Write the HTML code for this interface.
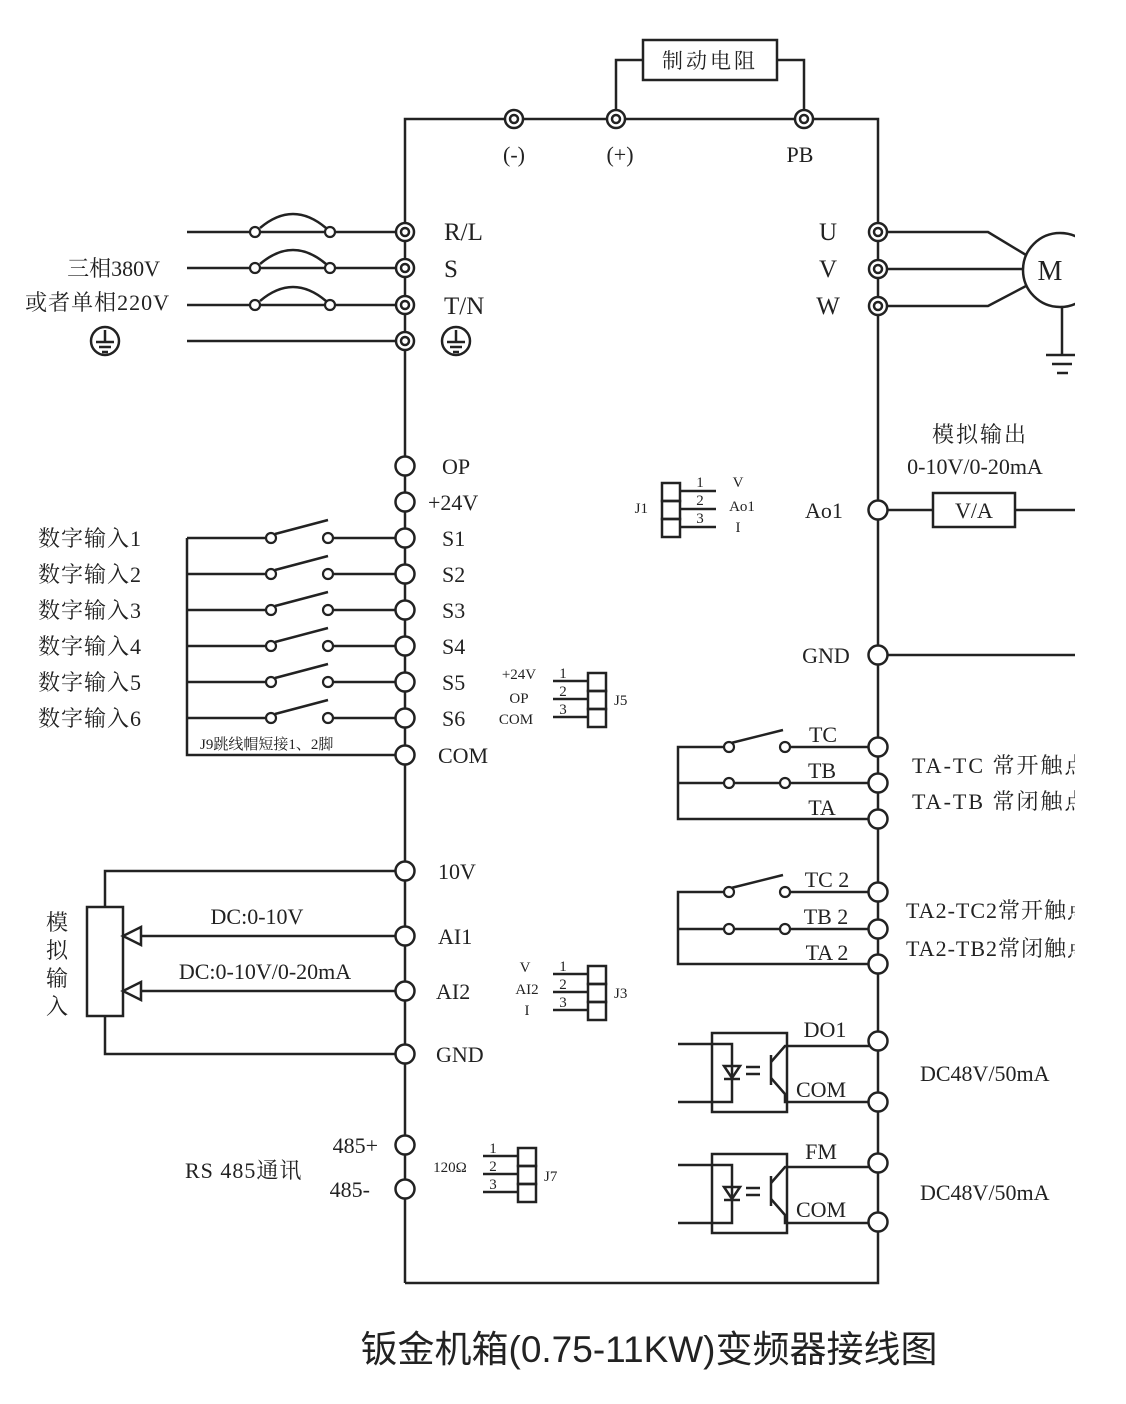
<!DOCTYPE html>
<html><head><meta charset="utf-8"><style>
html,body{margin:0;padding:0;background:#fff;}
svg{display:block;}
text{font-family:"Liberation Serif","Noto Serif CJK SC",serif;fill:#222;}
.t{font-family:"Liberation Sans","Noto Sans CJK SC",sans-serif;}
</style></head><body>
<svg width="1126" height="1404" viewBox="0 0 1126 1404" xmlns="http://www.w3.org/2000/svg">
<defs><clipPath id="cl"><rect x="0" y="0" width="1075" height="1404"/></clipPath></defs>
<g stroke="#222" stroke-width="2.5" fill="none" clip-path="url(#cl)">
<polyline points="405,1283 405,119 878,119 878,1283 405,1283"/>
<rect x="643" y="40" width="134" height="40"/>
<polyline points="616,119 616,60 643,60"/>
<polyline points="777,60 804,60 804,119"/>
<line x1="187" y1="232" x2="396" y2="232"/>
<line x1="187" y1="268" x2="396" y2="268"/>
<line x1="187" y1="305" x2="396" y2="305"/>
<line x1="187" y1="341" x2="396" y2="341"/>
<path d="M260,228 Q293,200 326,228"/>
<path d="M260,264 Q293,236 326,264"/>
<path d="M260,301 Q293,273 326,301"/>
<polyline points="887,232 988,232 1026,255"/>
<line x1="887" y1="269" x2="1023" y2="269"/>
<polyline points="887,306 988,306 1026,286"/>
<circle cx="1060" cy="270" r="37"/>
<line x1="1062" y1="307" x2="1062" y2="355"/>
<line x1="1046" y1="355" x2="1075" y2="355"/>
<line x1="1052" y1="364" x2="1072" y2="364"/>
<line x1="1057" y1="373" x2="1068" y2="373"/>
<polyline points="396,755 187,755 187,538"/>
<g id="sw">
<line x1="187" y1="538" x2="267" y2="538"/>
<line x1="275" y1="534" x2="328" y2="520"/>
<line x1="333" y1="538" x2="396" y2="538"/>
</g>
<use href="#sw" y="36"/><use href="#sw" y="72"/><use href="#sw" y="108"/><use href="#sw" y="144"/><use href="#sw" y="180"/>
<rect x="87" y="907" width="36" height="109"/>
<polyline points="105,907 105,871 396,871"/>
<polyline points="105,1016 105,1054 396,1054"/>
<line x1="141" y1="936" x2="396" y2="936"/>
<line x1="141" y1="991" x2="396" y2="991"/>
<polygon points="123,936 141,927 141,945"/>
<polygon points="123,991 141,982 141,1000"/>
<line x1="887" y1="510" x2="933" y2="510"/>
<rect x="933" y="493" width="82" height="34"/>
<line x1="1015" y1="510" x2="1075" y2="510"/>
<line x1="887" y1="655" x2="1075" y2="655"/>
<polyline points="724,747 678,747 678,819 869,819"/>
<line x1="678" y1="783" x2="724" y2="783"/>
<line x1="731" y1="743" x2="783" y2="730"/>
<line x1="789" y1="747" x2="869" y2="747"/>
<line x1="733" y1="783" x2="781" y2="783"/>
<line x1="789" y1="783" x2="869" y2="783"/>
<polyline points="724,892 678,892 678,964 869,964"/>
<line x1="678" y1="929" x2="724" y2="929"/>
<line x1="731" y1="888" x2="783" y2="875"/>
<line x1="789" y1="892" x2="869" y2="892"/>
<line x1="733" y1="929" x2="781" y2="929"/>
<line x1="789" y1="929" x2="869" y2="929"/>
<g id="opt">
<rect x="712" y="1033" width="75" height="79"/>
<polyline points="678,1044 732,1044 732,1102 678,1102"/>
<polygon points="724,1066 740,1066 732,1078"/>
<line x1="724" y1="1079" x2="740" y2="1079"/>
<line x1="746" y1="1067" x2="760" y2="1067"/>
<line x1="746" y1="1074" x2="760" y2="1074"/>
<line x1="771" y1="1055" x2="771" y2="1085"/>
<polyline points="771,1062 785,1046 869,1046"/>
<polyline points="771,1078 785,1094 785,1102 869,1102"/>
</g>
<use href="#opt" y="121"/>
<rect x="662" y="483" width="18" height="18"/><rect x="662" y="501" width="18" height="18"/><rect x="662" y="519" width="18" height="18"/>
<line x1="680" y1="491" x2="716" y2="491"/><line x1="680" y1="509" x2="716" y2="509"/><line x1="680" y1="527" x2="716" y2="527"/>
<rect x="588" y="673" width="18" height="18"/><rect x="588" y="691" width="18" height="18"/><rect x="588" y="709" width="18" height="18"/>
<line x1="553" y1="681" x2="588" y2="681"/><line x1="553" y1="699" x2="588" y2="699"/><line x1="553" y1="717" x2="588" y2="717"/>
<rect x="588" y="966" width="18" height="18"/><rect x="588" y="984" width="18" height="18"/><rect x="588" y="1002" width="18" height="18"/>
<line x1="553" y1="974" x2="588" y2="974"/><line x1="553" y1="992" x2="588" y2="992"/><line x1="553" y1="1010" x2="588" y2="1010"/>
<rect x="518" y="1148" width="18" height="18"/><rect x="518" y="1166" width="18" height="18"/><rect x="518" y="1184" width="18" height="18"/>
<line x1="483" y1="1156" x2="518" y2="1156"/><line x1="483" y1="1174" x2="518" y2="1174"/><line x1="483" y1="1192" x2="518" y2="1192"/>
<circle cx="105" cy="341" r="14"/><line x1="105" y1="330" x2="105" y2="342"/><line x1="96" y1="342" x2="114" y2="342"/><line x1="99" y1="347" x2="111" y2="347"/><line x1="102" y1="352" x2="108" y2="352"/>
<circle cx="456" cy="341" r="14"/><line x1="456" y1="330" x2="456" y2="342"/><line x1="447" y1="342" x2="465" y2="342"/><line x1="450" y1="347" x2="462" y2="347"/><line x1="453" y1="352" x2="459" y2="352"/>
</g>
<g stroke="#222" stroke-width="2.2" fill="#fff">
<circle cx="255" cy="232" r="5"/><circle cx="330" cy="232" r="5"/>
<circle cx="255" cy="268" r="5"/><circle cx="330" cy="268" r="5"/>
<circle cx="255" cy="305" r="5"/><circle cx="330" cy="305" r="5"/>
<circle cx="271" cy="538" r="5"/><circle cx="328" cy="538" r="5"/>
<circle cx="271" cy="574" r="5"/><circle cx="328" cy="574" r="5"/>
<circle cx="271" cy="610" r="5"/><circle cx="328" cy="610" r="5"/>
<circle cx="271" cy="646" r="5"/><circle cx="328" cy="646" r="5"/>
<circle cx="271" cy="682" r="5"/><circle cx="328" cy="682" r="5"/>
<circle cx="271" cy="718" r="5"/><circle cx="328" cy="718" r="5"/>
<circle cx="729" cy="747" r="5"/><circle cx="785" cy="747" r="5"/>
<circle cx="729" cy="783" r="5"/><circle cx="785" cy="783" r="5"/>
<circle cx="729" cy="892" r="5"/><circle cx="785" cy="892" r="5"/>
<circle cx="729" cy="929" r="5"/><circle cx="785" cy="929" r="5"/>
</g>
<g stroke="#222" stroke-width="2.5" fill="#fff">
<circle cx="514" cy="119" r="9"/><circle cx="514" cy="119" r="4"/>
<circle cx="616" cy="119" r="9"/><circle cx="616" cy="119" r="4"/>
<circle cx="804" cy="119" r="9"/><circle cx="804" cy="119" r="4"/>
<circle cx="405" cy="232" r="9"/><circle cx="405" cy="232" r="4"/>
<circle cx="405" cy="268" r="9"/><circle cx="405" cy="268" r="4"/>
<circle cx="405" cy="305" r="9"/><circle cx="405" cy="305" r="4"/>
<circle cx="405" cy="341" r="9"/><circle cx="405" cy="341" r="4"/>
<circle cx="878" cy="232" r="9"/><circle cx="878" cy="232" r="4"/>
<circle cx="878" cy="269" r="9"/><circle cx="878" cy="269" r="4"/>
<circle cx="878" cy="306" r="9"/><circle cx="878" cy="306" r="4"/>
</g>
<g stroke="#222" stroke-width="2.5" fill="#fff">
<circle cx="405" cy="466" r="9.5"/><circle cx="405" cy="502" r="9.5"/><circle cx="405" cy="538" r="9.5"/>
<circle cx="405" cy="574" r="9.5"/><circle cx="405" cy="610" r="9.5"/><circle cx="405" cy="646" r="9.5"/>
<circle cx="405" cy="682" r="9.5"/><circle cx="405" cy="718" r="9.5"/><circle cx="405" cy="755" r="9.5"/>
<circle cx="405" cy="871" r="9.5"/><circle cx="405" cy="936" r="9.5"/><circle cx="405" cy="991" r="9.5"/>
<circle cx="405" cy="1054" r="9.5"/><circle cx="405" cy="1145" r="9.5"/><circle cx="405" cy="1189" r="9.5"/>
<circle cx="878" cy="510" r="9.5"/><circle cx="878" cy="655" r="9.5"/>
<circle cx="878" cy="747" r="9.5"/><circle cx="878" cy="783" r="9.5"/><circle cx="878" cy="819" r="9.5"/>
<circle cx="878" cy="892" r="9.5"/><circle cx="878" cy="929" r="9.5"/><circle cx="878" cy="964" r="9.5"/>
<circle cx="878" cy="1041" r="9.5"/><circle cx="878" cy="1102" r="9.5"/>
<circle cx="878" cy="1163" r="9.5"/><circle cx="878" cy="1222" r="9.5"/>
</g>
<g font-size="22">
<text x="710" y="68" text-anchor="middle" font-size="21" letter-spacing="3">制动电阻</text>
<text x="514" y="162" text-anchor="middle">(-)</text>
<text x="620" y="162" text-anchor="middle">(+)</text>
<text x="800" y="162" text-anchor="middle">PB</text>
<text x="444" y="240" font-size="25">R/L</text>
<text x="444" y="277" font-size="25">S</text>
<text x="444" y="314" font-size="25">T/N</text>
<text x="160" y="276" text-anchor="end">三相380V</text>
<text x="170" y="310" text-anchor="end" letter-spacing="1">或者单相220V</text>
<text x="828" y="240" text-anchor="middle" font-size="25">U</text>
<text x="828" y="277" text-anchor="middle" font-size="25">V</text>
<text x="828" y="314" text-anchor="middle" font-size="25">W</text>
<text x="1050" y="280" text-anchor="middle" font-size="28">M</text>
<text x="442" y="474">OP</text><text x="428" y="510">+24V</text>
<text x="442" y="546">S1</text><text x="442" y="582">S2</text><text x="442" y="618">S3</text>
<text x="442" y="654">S4</text><text x="442" y="690">S5</text><text x="442" y="726">S6</text>
<text x="438" y="763">COM</text>
<text x="438" y="879">10V</text><text x="438" y="944">AI1</text><text x="436" y="999">AI2</text><text x="436" y="1062">GND</text>
<text x="378" y="1153" text-anchor="end">485+</text><text x="370" y="1197" text-anchor="end">485-</text>
<text x="185" y="1178" letter-spacing="1">RS 485通讯</text>
<text x="38" y="546" letter-spacing="1">数字输入1</text><text x="38" y="582" letter-spacing="1">数字输入2</text><text x="38" y="618" letter-spacing="1">数字输入3</text>
<text x="38" y="654" letter-spacing="1">数字输入4</text><text x="38" y="690" letter-spacing="1">数字输入5</text><text x="38" y="726" letter-spacing="1">数字输入6</text>
<text x="200" y="749" font-size="15">J9跳线帽短接1、2脚</text>
<text x="57" y="930" text-anchor="middle">模</text><text x="57" y="958" text-anchor="middle">拟</text>
<text x="57" y="986" text-anchor="middle">输</text><text x="57" y="1014" text-anchor="middle">入</text>
<text x="257" y="924" text-anchor="middle">DC:0-10V</text>
<text x="265" y="979" text-anchor="middle">DC:0-10V/0-20mA</text>
<text x="980" y="442" text-anchor="middle" letter-spacing="2">模拟输出</text>
<text x="975" y="474" text-anchor="middle">0-10V/0-20mA</text>
<text x="974" y="518" text-anchor="middle">V/A</text>
<text x="824" y="518" text-anchor="middle">Ao1</text>
<text x="826" y="663" text-anchor="middle">GND</text>
<text x="823" y="742" text-anchor="middle">TC</text><text x="822" y="778" text-anchor="middle">TB</text><text x="822" y="815" text-anchor="middle">TA</text>
<text x="827" y="887" text-anchor="middle">TC 2</text><text x="826" y="924" text-anchor="middle">TB 2</text><text x="827" y="960" text-anchor="middle">TA 2</text>
<g clip-path="url(#cl)">
<text x="912" y="773" letter-spacing="2">TA-TC 常开触点</text><text x="912" y="809" letter-spacing="2">TA-TB 常闭触点</text>
<text x="906" y="918" letter-spacing="1">TA2-TC2常开触点</text><text x="906" y="956" letter-spacing="1">TA2-TB2常闭触点</text>
</g>
<text x="825" y="1037" text-anchor="middle">DO1</text><text x="821" y="1097" text-anchor="middle">COM</text>
<text x="821" y="1159" text-anchor="middle">FM</text><text x="821" y="1217" text-anchor="middle">COM</text>
<text x="920" y="1081">DC48V/50mA</text><text x="920" y="1200">DC48V/50mA</text>
</g>
<g font-size="15">
<text x="648" y="513" text-anchor="end">J1</text>
<text x="700" y="487" text-anchor="middle">1</text><text x="700" y="505" text-anchor="middle">2</text><text x="700" y="523" text-anchor="middle">3</text>
<text x="738" y="487" text-anchor="middle">V</text><text x="742" y="511" text-anchor="middle">Ao1</text><text x="738" y="532" text-anchor="middle">I</text>
<text x="563" y="678" text-anchor="middle">1</text><text x="563" y="696" text-anchor="middle">2</text><text x="563" y="714" text-anchor="middle">3</text>
<text x="519" y="679" text-anchor="middle">+24V</text><text x="519" y="703" text-anchor="middle">OP</text><text x="516" y="724" text-anchor="middle">COM</text>
<text x="614" y="705">J5</text>
<text x="563" y="971" text-anchor="middle">1</text><text x="563" y="989" text-anchor="middle">2</text><text x="563" y="1007" text-anchor="middle">3</text>
<text x="525" y="972" text-anchor="middle">V</text><text x="527" y="994" text-anchor="middle">AI2</text><text x="527" y="1015" text-anchor="middle">I</text>
<text x="614" y="998">J3</text>
<text x="493" y="1153" text-anchor="middle">1</text><text x="493" y="1171" text-anchor="middle">2</text><text x="493" y="1189" text-anchor="middle">3</text>
<text x="450" y="1172" text-anchor="middle">120Ω</text>
<text x="544" y="1181">J7</text>
</g>
<text class="t" x="649" y="1362" text-anchor="middle" font-size="37">钣金机箱(0.75-11KW)变频器接线图</text>
</svg>
</body></html>
